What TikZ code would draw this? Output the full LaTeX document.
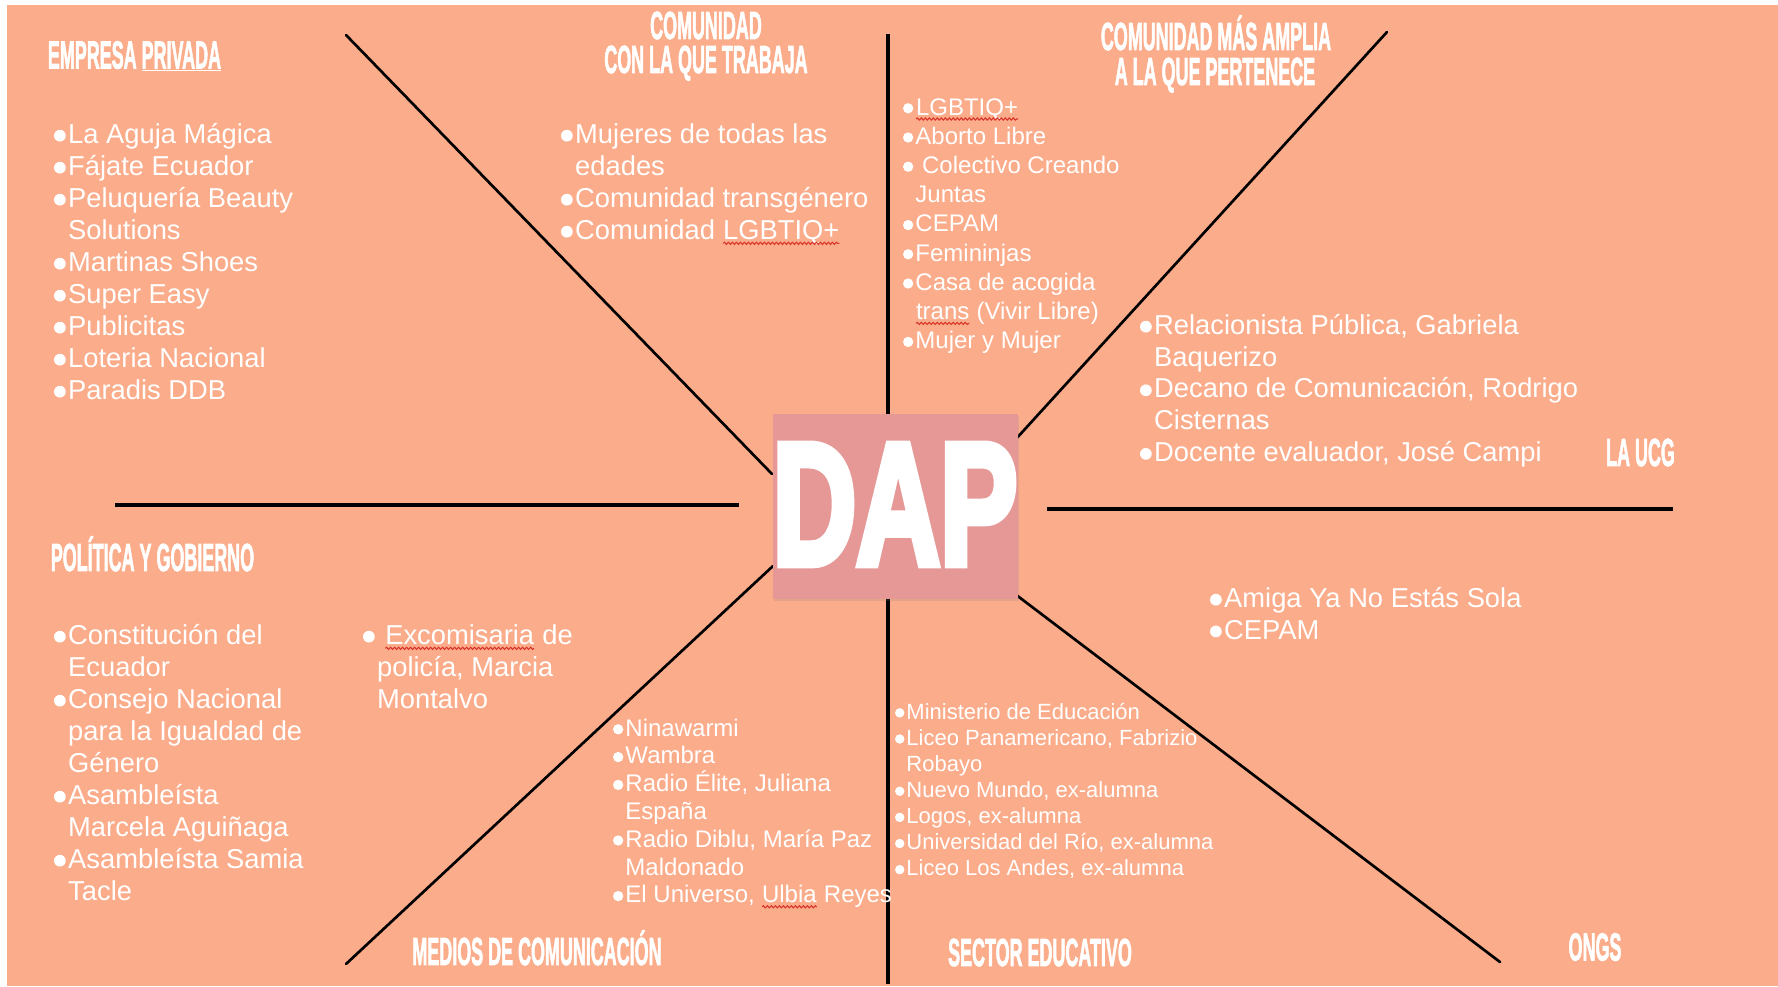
\documentclass[tikz,border=0pt]{standalone}
\usepackage{fontspec}
\setmainfont{Liberation Sans}
\newfontface\hfont{Liberation Sans Bold}[FakeBold=2.5]
\newfontface\dfont{Liberation Sans Bold}[FakeBold=5]
\usetikzlibrary{decorations.pathmorphing,shadows}
\definecolor{peach}{HTML}{FBAC8A}
\definecolor{dappink}{HTML}{E69896}
\definecolor{sqred}{HTML}{D9352B}
\newcommand\bl{\makebox[0.52em][l]{\tikz[baseline=0pt]\fill[white] (0.23em,0.28em) circle[radius=0.215em];}}
\newcommand\ind{\makebox[0.52em]{}}
\newcommand\fst{\rule{0pt}{1em}}
\newcommand\hd[1]{\scalebox{0.46}[1]{#1}}
\newcommand\sq[1]{\tikz[baseline=(w.base)]{\node[inner sep=0pt,outer sep=0pt,anchor=base west](w) at (0pt,0pt){#1};\draw[sqred,line width=0.8pt,decorate,decoration={snake,amplitude=0.8pt,segment length=3pt}]([yshift=-3pt]w.base west)--([yshift=-3pt]w.base east);}}
\begin{document}
\begin{tikzpicture}[x=0.75pt,y=-0.75pt,
  list/.style={anchor=north west,inner sep=0pt,outer sep=0pt,align=left,text=white},
  head/.style={inner sep=0pt,outer sep=0pt,text=white,font=\fontsize{29.25}{30}\hfont,text height=20.9pt,text depth=0pt},
  axis/.style={line width=3pt,black},
  diag/.style={line width=2pt,black,line cap=round}]
\useasboundingbox (0,0) rectangle (1778,986);
\fill[white] (0,0) rectangle (1778,986);
\fill[peach] (7,5) rectangle (1778,986);
% connector end points
\coordinate (ulA) at (346,35);   \coordinate (ulB) at (772,474);
\coordinate (vtA) at (888,34);   \coordinate (vtB) at (888,416);
\coordinate (urA) at (1387,32);  \coordinate (urB) at (1015,440);
\coordinate (hlA) at (115,505);  \coordinate (hlB) at (739,505);
\coordinate (hrA) at (1047,509); \coordinate (hrB) at (1673,509);
\coordinate (llA) at (773,566);  \coordinate (llB) at (346,964);
\coordinate (vbA) at (888,597);  \coordinate (vbB) at (888,984);
\coordinate (lrA) at (1015,594); \coordinate (lrB) at (1500,962);
\draw[diag] (ulA) -- (ulB);
\draw[axis] (vtA) -- (vtB);
\draw[diag] (urA) -- (urB);
\draw[axis] (hlA) -- (hlB);
\draw[axis] (hrA) -- (hrB);
\draw[diag] (llA) -- (llB);
\draw[axis] (vbA) -- (vbB);
\draw[diag] (lrA) -- (lrB);
% centre
\node[fill=dappink,minimum width=183pt,minimum height=138.75pt,inner sep=0pt,text=white,
  drop shadow={shadow xshift=1pt,shadow yshift=-1.5pt,opacity=0.18},
  font=\fontsize{129.9}{130}\dfont,text height=93pt,text depth=6.75pt] (dap) at (895,506.5) {\scalebox{0.67}[1]{DAP}};
% headings
\node[head] (hEmp) at (134.5,54.5) {\hd{EMPRESA \underline{PRIVADA}}};
\node[head] (hCom1) at (706,25) {\hd{COMUNIDAD}};
\node[head] (hCom2) at (706,59) {\hd{CON LA QUE TRABAJA}};
\node[head] (hAmp1) at (1216,36) {\hd{COMUNIDAD MÁS AMPLIA}};
\node[head] (hAmp2) at (1215,71) {\hd{A LA QUE PERTENECE}};
\node[head] (hUcg) at (1640.5,452) {\hd{LA UCG}};
\node[head] (hPol) at (152.5,557) {\hd{POLÍTICA Y GOBIERNO}};
\node[head] (hMed) at (537,951) {\hd{MEDIOS DE COMUNICACIÓN}};
\node[head] (hEdu) at (1040,952) {\hd{SECTOR EDUCATIVO}};
\node[head] (hOng) at (1595,946.5) {\hd{ONGS}};
% lists
\node[list,font=\fontsize{20.5}{24}\selectfont] (lEmp) at (54,116) {\fst\bl La Aguja Mágica\\\bl Fájate Ecuador\\\bl Peluquería Beauty\\\ind Solutions\\\bl Martinas Shoes\\\bl Super Easy\\\bl Publicitas\\\bl Loteria Nacional\\\bl Paradis DDB};
\node[list,font=\fontsize{20.5}{24}\selectfont] (lCom) at (561,116) {\fst\bl Mujeres de todas las\\\ind edades\\\bl Comunidad transgénero\\\bl Comunidad \sq{LGBTIQ+}};
\node[list,font=\fontsize{18}{21.9}\selectfont] (lAmp) at (903,91) {\fst\bl\sq{LGBTIQ+}\\\bl Aborto Libre\\\bl\ Colectivo Creando\\\ind Juntas\\\bl CEPAM\\\bl Femininjas\\\bl Casa de acogida\\\ind\sq{trans} (Vivir Libre)\\\bl Mujer y Mujer};
\node[list,font=\fontsize{20.5}{23.85}\selectfont] (lUcg) at (1140,307) {\fst\bl Relacionista Pública, Gabriela\\\ind Baquerizo\\\bl Decano de Comunicación, Rodrigo\\\ind Cisternas\\\bl Docente evaluador, José Campi};
\node[list,font=\fontsize{20.5}{24}\selectfont] (lPol) at (54,617) {\fst\bl Constitución del\\\ind Ecuador\\\bl Consejo Nacional\\\ind para la Igualdad de\\\ind Género\\\bl Asambleísta\\\ind Marcela Aguiñaga\\\bl Asambleísta Samia\\\ind Tacle};
\node[list,font=\fontsize{20.5}{24}\selectfont] (lExc) at (363,617) {\fst\bl\ \sq{Excomisaria} de\\\ind policía, Marcia\\\ind Montalvo};
\node[list,font=\fontsize{18}{20.85}\selectfont] (lMed) at (613,712) {\fst\bl Ninawarmi\\\bl Wambra\\\bl Radio Élite, Juliana\\\ind España\\\bl Radio Diblu, María Paz\\\ind Maldonado\\\bl El Universo, \sq{Ulbia} Reyes};
\node[list,font=\fontsize{16.5}{19.6}\selectfont] (lEdu) at (895,697) {\fst\bl Ministerio de Educación\\\bl Liceo Panamericano, Fabrizio\\\ind Robayo\\\bl Nuevo Mundo, ex-alumna\\\bl Logos, ex-alumna\\\bl Universidad del Río, ex-alumna\\\bl Liceo Los Andes, ex-alumna};
\node[list,font=\fontsize{20.5}{23.8}\selectfont] (lOng) at (1210,580) {\fst\bl Amiga Ya No Estás Sola\\\bl CEPAM};
\end{tikzpicture}
\end{document}
